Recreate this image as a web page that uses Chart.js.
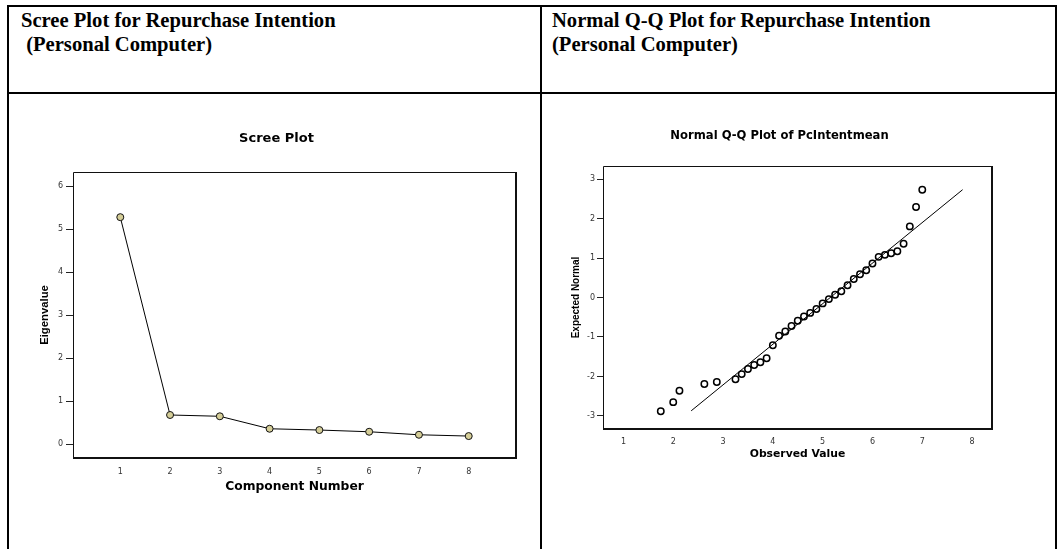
<!DOCTYPE html>
<html>
<head>
<meta charset="utf-8">
<title>Repurchase Intention (Personal Computer)</title>
<script src="https://cdn.jsdelivr.net/npm/chart.js@4.4.1/dist/chart.umd.min.js"></script>
<style>
  html, body { margin: 0; padding: 0; background: #fff; width: 1059px; height: 549px; overflow: hidden; }
  body { position: relative; }
  .rule { position: absolute; background: #000; }
  .head { position: absolute; top: 8px; font: bold 20.6px/24px 'Liberation Serif', 'Times New Roman', serif; color: #000; white-space: pre; }
  canvas { position: absolute; }
</style>
</head>
<body>
<!-- table rules -->
<div class="rule" style="left:7px;top:5px;width:1050px;height:2px"></div>
<div class="rule" style="left:7px;top:92px;width:1050px;height:2px"></div>
<div class="rule" style="left:7px;top:5px;width:2px;height:544px"></div>
<div class="rule" style="left:540px;top:5px;width:2px;height:544px"></div>
<div class="rule" style="left:1055px;top:5px;width:2px;height:544px"></div>

<div class="head" style="left:21px">Scree Plot for Repurchase Intention
 (Personal Computer)</div>
<div class="head" style="left:552px">Normal Q-Q Plot for Repurchase Intention
(Personal Computer)</div>

<canvas id="scree" width="531" height="455" style="left:9px;top:94px"></canvas>
<canvas id="qq" width="513" height="455" style="left:542px;top:94px"></canvas>

<script>
// Scree plot: eigenvalue of each extracted component
const componentNumbers = [1, 2, 3, 4, 5, 6, 7, 8];
const eigenvalues = [5.28, 0.68, 0.65, 0.36, 0.33, 0.29, 0.22, 0.19];
const screeXTicks = [1, 2, 3, 4, 5, 6, 7, 8];
const screeYTicks = [0, 1, 2, 3, 4, 5, 6];

// Normal Q-Q plot of PcIntentmean: observed means vs expected normal scores
const observedValues = [1.75, 2.0, 2.125, 2.625, 2.875, 3.25, 3.375, 3.5, 3.625, 3.75, 3.875,
  4.0, 4.125, 4.25, 4.375, 4.5, 4.625, 4.75, 4.875, 5.0, 5.125, 5.25, 5.375, 5.5, 5.625,
  5.75, 5.875, 6.0, 6.125, 6.25, 6.375, 6.5, 6.625, 6.75, 6.875, 7.0];
const expectedNormal = [-2.88, -2.65, -2.36, -2.19, -2.14, -2.07, -1.94, -1.81, -1.71, -1.64, -1.54,
  -1.21, -0.97, -0.86, -0.72, -0.59, -0.48, -0.39, -0.29, -0.15, -0.04, 0.07, 0.16, 0.31, 0.47,
  0.59, 0.69, 0.86, 1.03, 1.08, 1.12, 1.17, 1.36, 1.80, 2.29, 2.73];
// reference line endpoints (observed, expected)
const refLineX = [2.36, 7.81];
const refLineY = [-2.87, 2.73];
const qqXTicks = [1, 2, 3, 4, 5, 6, 7, 8];
const qqYTicks = [-3, -2, -1, 0, 1, 2, 3];

const tickFont = { family: "'DejaVu Sans', sans-serif", size: 8 };
const sideFont = "'Liberation Sans', Arial, sans-serif";
const wideFont = "'DejaVu Sans', 'Liberation Sans', sans-serif";

// Draws the plot frame: thin on top/left, heavier on right/bottom
const framePlugin = {
  id: 'frame',
  afterDraw(chart) {
    const { ctx, chartArea } = chart;
    const l = Math.round(chartArea.left), t = Math.round(chartArea.top);
    const r = Math.round(chartArea.right), b = Math.round(chartArea.bottom);
    ctx.save();
    ctx.strokeStyle = '#111';
    ctx.lineWidth = 1;
    ctx.beginPath();
    ctx.moveTo(l + 0.5, b);
    ctx.lineTo(l + 0.5, t + 0.5);
    ctx.lineTo(r, t + 0.5);
    ctx.stroke();
    ctx.lineWidth = 2;
    ctx.beginPath();
    ctx.moveTo(r, t);
    ctx.lineTo(r, b);
    ctx.lineTo(l, b);
    ctx.stroke();
    ctx.restore();
  }
};

function fixedTicks(values) {
  return function (scale) { scale.ticks = values.map(v => ({ value: v })); };
}

function xAxis(min, max, ticks, title, titleSize, titlePad, height, labelPad) {
  return {
    type: 'linear', position: 'bottom', min, max,
    afterBuildTicks: fixedTicks(ticks),
    afterFit(scale) { scale.height = height; },
    grid: { display: false, drawTicks: false, tickLength: 0 },
    border: { display: false },
    ticks: { font: tickFont, color: '#333', padding: labelPad, maxRotation: 0, autoSkip: false },
    title: { display: true, text: title, color: '#000',
      font: { family: wideFont, size: titleSize, weight: 'bold', lineHeight: 1.2 },
      padding: { top: 0, bottom: titlePad } }
  };
}

function yAxis(min, max, ticks, title, titleSize, titlePad, width, tickLen, labelPad) {
  return {
    type: 'linear', position: 'left', min, max,
    afterBuildTicks: fixedTicks(ticks),
    afterFit(scale) { scale.width = width; },
    grid: { display: true, drawOnChartArea: false, drawTicks: true, tickLength: tickLen, color: '#222', lineWidth: 1 },
    border: { display: false },
    ticks: { font: tickFont, color: '#333', padding: labelPad, autoSkip: false },
    title: { display: true, text: title, color: '#000',
      font: { family: sideFont, size: titleSize, weight: 'bold', lineHeight: 1.2 },
      padding: { top: titlePad, bottom: 0 } }
  };
}

const common = {
  responsive: false,
  animation: false,
  events: [],
  plugins: { legend: { display: false }, tooltip: { enabled: false } }
};

new Chart(document.getElementById('scree'), {
  type: 'scatter',
  data: {
    datasets: [{
      data: componentNumbers.map((c, i) => ({ x: c, y: eigenvalues[i] })),
      showLine: true,
      borderColor: '#000',
      borderWidth: 1,
      pointRadius: 3.5,
      pointBackgroundColor: '#d5ce98',
      pointBorderColor: '#111',
      pointBorderWidth: 1
    }]
  },
  options: {
    ...common,
    layout: { padding: { left: 28, right: 24, top: 37, bottom: 40 } },
    plugins: {
      ...common.plugins,
      title: { display: true, text: 'Scree Plot', color: '#000',
        font: { family: wideFont, size: 13, weight: 'bold', lineHeight: 1.2 },
        padding: { top: 0, bottom: 25.4 } }
    },
    scales: {
      x: xAxis(0.05, 8.95, screeXTicks, 'Component Number', 12.3, 14.9, 51, 9.2),
      y: yAxis(-0.32, 6.33, screeYTicks, 'Eigenvalue', 11.3, 1.2, 36, 7, 3)
    }
  },
  plugins: [framePlugin]
});

new Chart(document.getElementById('qq'), {
  type: 'scatter',
  data: {
    datasets: [{
      data: observedValues.map((v, i) => ({ x: v, y: expectedNormal[i] })),
      pointRadius: 3.2,
      pointBackgroundColor: 'rgba(255,255,255,0)',
      pointBorderColor: '#000',
      pointBorderWidth: 1.5
    }, {
      data: refLineX.map((v, i) => ({ x: v, y: refLineY[i] })),
      showLine: true,
      borderColor: '#000',
      borderWidth: 1,
      pointRadius: 0
    }]
  },
  options: {
    ...common,
    layout: { padding: { left: 25, right: 63, top: 35, bottom: 70 } },
    plugins: {
      ...common.plugins,
      title: { display: true, text: 'Normal Q-Q Plot of PcIntentmean', color: '#000',
        font: { family: wideFont, size: 11.6, weight: 'bold', lineHeight: 1.2 },
        padding: { top: 0, bottom: 23.08 } }
    },
    scales: {
      x: xAxis(0.59, 8.4, qqXTicks, 'Observed Value', 10.8, 18.2, 50, 8.3),
      y: yAxis(-3.33, 3.33, qqYTicks, 'Expected Normal', 10, 3.7, 36, 6, 2)
    }
  },
  plugins: [framePlugin]
});
</script>
</body>
</html>
